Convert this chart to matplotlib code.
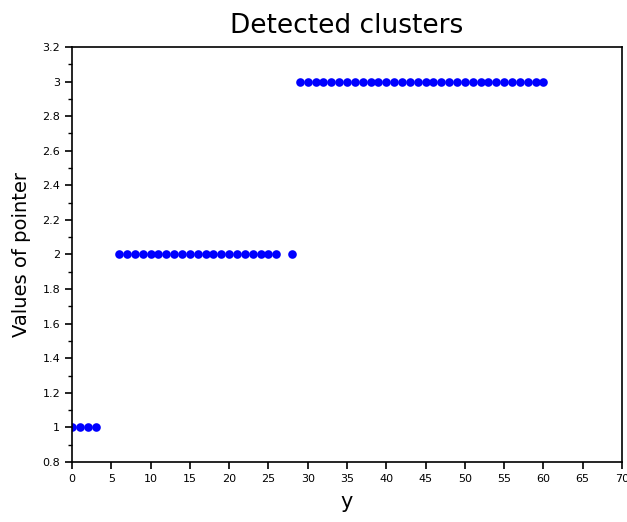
import numpy as np
import matplotlib
matplotlib.use("Agg")
import matplotlib.pyplot as plt
from matplotlib.ticker import MultipleLocator

# cluster index assigned to each sample position
y_c1 = [0, 1, 2, 3]
y_c2 = list(range(6, 27)) + [28]
y_c3 = list(range(29, 61))
pointer_c1 = [1] * len(y_c1)
pointer_c2 = [2] * len(y_c2)
pointer_c3 = [3] * len(y_c3)

xs = y_c1 + y_c2 + y_c3
vals = pointer_c1 + pointer_c2 + pointer_c3

x_ticks = list(range(0, 71, 5))
y_ticks = [0.8, 1, 1.2, 1.4, 1.6, 1.8, 2, 2.2, 2.4, 2.6, 2.8, 3, 3.2]
y_tick_labels = ["0.8", "1", "1.2", "1.4", "1.6", "1.8", "2", "2.2", "2.4", "2.6", "2.8", "3", "3.2"]

fig = plt.figure(figsize=(6.27, 5.22), dpi=100)
ax = fig.add_axes([0.1148, 0.115, 0.8772, 0.795])
ax.plot(xs, vals, linestyle="none", marker="o", markersize=6.2,
        color="#0000ff", markeredgewidth=0)

ax.set_xlim(0, 70)
ax.set_ylim(0.8, 3.2)
ax.set_xticks(x_ticks)
ax.set_xticklabels([str(t) for t in x_ticks])
ax.set_yticks(y_ticks)
ax.set_yticklabels(y_tick_labels)
ax.yaxis.set_minor_locator(MultipleLocator(0.1))
ax.tick_params(axis="both", which="major", direction="out", length=5,
               width=1.2, labelsize=8, colors="black")
ax.tick_params(axis="y", which="minor", direction="out", length=3, width=1)
for s in ax.spines.values():
    s.set_linewidth(1.2)

ax.set_title("Detected clusters", fontsize=19, pad=10)
ax.set_xlabel("y", fontsize=15, labelpad=6)
ax.set_ylabel("Values of pointer", fontsize=14, labelpad=8)

fig.savefig("out.png", dpi=100)
